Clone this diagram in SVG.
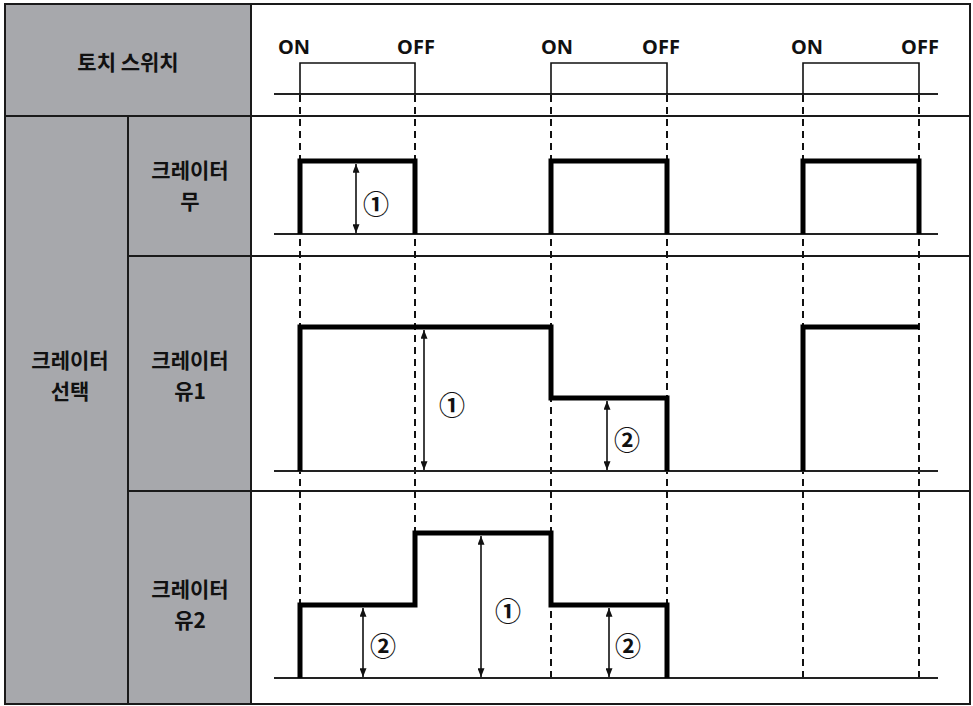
<svg xmlns="http://www.w3.org/2000/svg" width="973" height="706" viewBox="0 0 973 706">
<style>
.kr{font-family:"Noto Sans CJK KR","Noto Sans",sans-serif;font-weight:bold;font-size:21px;fill:#111;text-anchor:middle}
.lat{font-family:"Noto Sans","Liberation Sans",sans-serif;font-weight:bold;font-size:20px;fill:#111;text-anchor:middle}
.num{font-family:"Noto Sans CJK KR","DejaVu Sans",sans-serif;font-weight:bold;font-size:26px;fill:#111;text-anchor:middle;dominant-baseline:central}
.grid{stroke:#1a1a1a;stroke-width:2;fill:none}
.base{stroke:#222;stroke-width:2;fill:none}
.sw{stroke:#111;stroke-width:1.6;fill:none}
.sig{stroke:#000;stroke-width:5;fill:none;stroke-linejoin:miter;stroke-linecap:butt}
.dash{stroke:#111;stroke-width:2;stroke-dasharray:7,5;fill:none}
.arr{stroke:#111;stroke-width:1.6;fill:none;marker-start:url(#ah);marker-end:url(#ah)}
</style>
<defs>
<marker id="ah" viewBox="0 0 10 8" refX="10" refY="4" markerWidth="9" markerHeight="7" markerUnits="userSpaceOnUse" orient="auto-start-reverse">
<path d="M0,0 L10,4 L0,8 Z" fill="#111"/>
</marker>
</defs>
<rect x="0" y="0" width="973" height="706" fill="#fff"/>
<g id="frame">
<rect x="5" y="4" width="246" height="700" fill="#a7a8ac"/>
<rect x="5" y="4" width="965" height="700" class="grid" stroke-width="2.5"/>
<line x1="5" y1="116" x2="970" y2="116" class="grid"/>
<line x1="251" y1="4" x2="251" y2="704" class="grid"/>
<line x1="128" y1="116" x2="128" y2="704" class="grid"/>
<line x1="128" y1="256" x2="970" y2="256" class="grid"/>
<line x1="128" y1="491" x2="970" y2="491" class="grid"/>
</g>
<g id="label-torch">
<text class="kr" x="128" y="70">토치 스위치</text>
</g>
<g id="label-crater-select">
<text class="kr" x="70" y="368">크레이터<tspan x="70" dy="31">선택</tspan></text>
</g>
<g id="label-crater-none">
<text class="kr" x="190" y="178">크레이터<tspan x="190" dy="31">무</tspan></text>
</g>
<g id="label-crater-1">
<text class="kr" x="190" y="368">크레이터<tspan x="190" dy="31">유1</tspan></text>
</g>
<g id="label-crater-2">
<text class="kr" x="190" y="597">크레이터<tspan x="190" dy="31">유2</tspan></text>
</g>
<g id="connectors">
<line class="dash" x1="300" y1="95" x2="300" y2="680"/>
<line class="dash" x1="415" y1="95" x2="415" y2="532"/>
<line class="dash" x1="551" y1="95" x2="551" y2="680"/>
<line class="dash" x1="667" y1="95" x2="667" y2="680"/>
<line class="dash" x1="803" y1="95" x2="803" y2="680"/>
<line class="dash" x1="919" y1="95" x2="919" y2="680"/>
</g>
<g id="torch-switch">
<line class="base" x1="274" y1="94" x2="938" y2="94"/>
<path class="sw" d="M300,94 V63 H415 V94 M551,94 V63 H667 V94 M803,94 V63 H919 V94"/>
<text class="lat" x="294" y="54">ON</text>
<text class="lat" x="416" y="54">OFF</text>
<text class="lat" x="557" y="54">ON</text>
<text class="lat" x="661" y="54">OFF</text>
<text class="lat" x="807" y="54">ON</text>
<text class="lat" x="920" y="54">OFF</text>
</g>
<g id="row-none">
<line class="base" x1="274" y1="234" x2="938" y2="234"/>
<path class="sig" d="M300,234 V161 H415 V234 M551,234 V161 H667 V234 M803,234 V161 H919 V234"/>
<line class="arr" x1="356" y1="164" x2="356" y2="233"/>
<text class="num" x="376" y="202">①</text>
</g>
<g id="row-1">
<line class="base" x1="274" y1="471" x2="938" y2="471"/>
<path class="sig" d="M300,471 V327 H551 V398 H667 V471 M803,471 V327 H919"/>
<line class="arr" x1="424" y1="330" x2="424" y2="470"/>
<text class="num" x="452" y="403">①</text>
<line class="arr" x1="607" y1="401" x2="607" y2="470"/>
<text class="num" x="627" y="438">②</text>
</g>
<g id="row-2">
<line class="base" x1="274" y1="678" x2="938" y2="678"/>
<path class="sig" d="M300,678 V605 H415 V533 H551 V605 H667 V678"/>
<line class="arr" x1="363" y1="608" x2="363" y2="677"/>
<text class="num" x="383" y="644">②</text>
<line class="arr" x1="481" y1="536" x2="481" y2="677"/>
<text class="num" x="508" y="609">①</text>
<line class="arr" x1="609" y1="608" x2="609" y2="677"/>
<text class="num" x="628" y="644">②</text>
</g>
</svg>
